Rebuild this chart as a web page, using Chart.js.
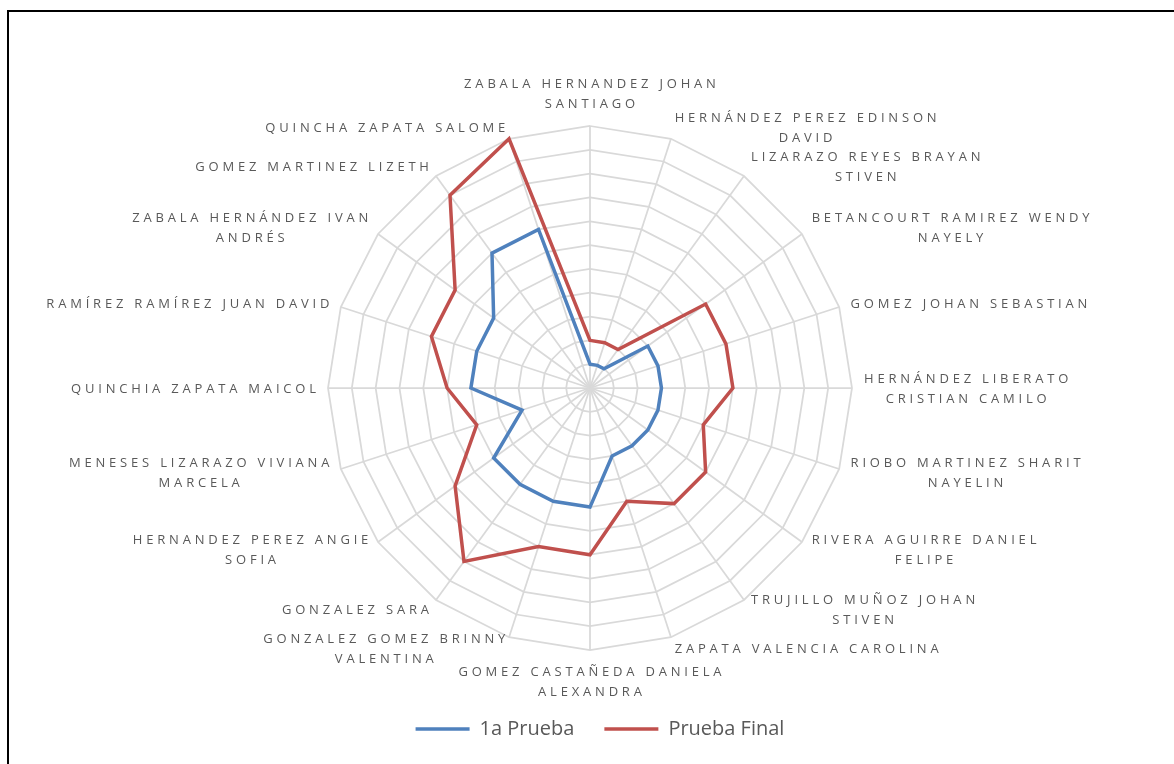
<!DOCTYPE html>
<html><head><meta charset="utf-8">
<script src="https://cdn.jsdelivr.net/npm/chart.js@4.4.1/dist/chart.umd.min.js"></script>
<style>
html,body{margin:0;padding:0;background:#fff;overflow:hidden;}
#wrap{position:relative;width:1174px;height:764px;overflow:hidden;}
#frame{position:absolute;left:7px;top:10px;width:1220px;height:820px;border:2px solid #000;box-sizing:border-box;pointer-events:none;}
canvas{position:absolute;left:0;top:0;}
</style></head><body>
<div id="wrap"><canvas id="c" width="1174" height="764"></canvas><div id="frame"></div></div>
<script>
const categories = [
  ['ZABALA HERNANDEZ JOHAN', 'SANTIAGO'],
  ['HERNÁNDEZ PEREZ EDINSON', 'DAVID'],
  ['LIZARAZO REYES BRAYAN', 'STIVEN'],
  ['BETANCOURT RAMIREZ WENDY', 'NAYELY'],
  ['GOMEZ JOHAN SEBASTIAN'],
  ['HERNÁNDEZ LIBERATO', 'CRISTIAN CAMILO'],
  ['RIOBO MARTINEZ SHARIT', 'NAYELIN'],
  ['RIVERA AGUIRRE DANIEL', 'FELIPE'],
  ['TRUJILLO MUÑOZ JOHAN', 'STIVEN'],
  ['ZAPATA VALENCIA CAROLINA'],
  ['GOMEZ CASTAÑEDA DANIELA', 'ALEXANDRA'],
  ['GONZALEZ GOMEZ BRINNY', 'VALENTINA'],
  ['GONZALEZ SARA'],
  ['HERNANDEZ PEREZ ANGIE', 'SOFIA'],
  ['MENESES LIZARAZO VIVIANA', 'MARCELA'],
  ['QUINCHIA ZAPATA MAICOL'],
  ['RAMÍREZ RAMÍREZ JUAN DAVID'],
  ['ZABALA HERNÁNDEZ IVAN', 'ANDRÉS'],
  ['GOMEZ MARTINEZ LIZETH'],
  ['QUINCHA ZAPATA SALOME']
];
const primeraPrueba = [1, 1, 1, 3, 3, 3, 3, 3, 3, 3, 5, 5, 5, 5, 3, 5, 5, 5, 7, 7];
const pruebaFinal   = [2, 2, 2, 6, 6, 6, 5, 6, 6, 5, 7, 7, 9, 7, 5, 6, 7, 7, 10, 11];
const seriesNames = ['1a Prueba', 'Prueba Final'];
const axisMax = 11;

const LABEL_GAP = 12;
const LINE_H = 20;
const SPACING = 3.8;
const labelPlugin = {
  id: 'excelPointLabels',
  beforeDatasetsDraw(chart) {
    const scale = chart.scales.r;
    const ctx = chart.ctx;
    const labels = chart.data.labels;
    const n = labels.length;
    ctx.save();
    ctx.font = '13px "Open Sans"';
    ctx.letterSpacing = SPACING + 'px';
    ctx.fillStyle = '#595959';
    ctx.textBaseline = 'middle';
    ctx.textAlign = 'center';
    for (let i = 0; i < n; i++) {
      const lines = labels[i];
      const p = scale.getPointPosition(i, scale.drawingArea + LABEL_GAP);
      const w = Math.max(...lines.map(l => ctx.measureText(l).width - SPACING));
      const h = lines.length * LINE_H;
      const deg = Math.round(i * 360 / n);
      let cx, top;
      if (deg === 0) { cx = p.x; top = p.y - h; }
      else if (deg === 180) { cx = p.x; top = p.y; }
      else if (deg < 180) { cx = p.x + w / 2; top = p.y - h / 2 + 1; }
      else { cx = p.x - w / 2; top = p.y - h / 2 + 1; }
      lines.forEach((l, k) => ctx.fillText(l, cx + SPACING / 2, top + LINE_H * (k + 0.5)));
    }
    ctx.restore();
  }
};

new Chart(document.getElementById('c'), {
  type: 'radar',
  data: {
    labels: categories,
    datasets: [
      { label: seriesNames[0], data: primeraPrueba, borderColor: '#4F81BD', backgroundColor: '#4F81BD',
        borderWidth: 3.5, fill: false, pointRadius: 0, pointHoverRadius: 0, tension: 0 },
      { label: seriesNames[1], data: pruebaFinal, borderColor: '#C0504D', backgroundColor: '#C0504D',
        borderWidth: 3.5, fill: false, pointRadius: 0, pointHoverRadius: 0, tension: 0 }
    ]
  },
  options: {
    responsive: false,
    animation: false,
    layout: { padding: { left: 26, right: 0, top: 0, bottom: 15 } },
    plugins: {
      legend: {
        position: 'bottom',
        labels: {
          usePointStyle: true, pointStyle: 'line', pointStyleWidth: 54,
          font: { family: '"Open Sans"', size: 20 }, color: '#595959', padding: 30
        }
      },
      tooltip: { enabled: false }
    },
    scales: {
      r: {
        min: 0, max: axisMax,
        ticks: { display: false, stepSize: 1 },
        grid: { color: '#d9d9d9', lineWidth: 1.75 },
        angleLines: { color: '#d9d9d9', lineWidth: 1.75 },
        pointLabels: { display: false },
        afterFit(scale) { scale.xCenter = 590; scale.yCenter = 388; scale.drawingArea = 262; }
      }
    }
  },
  plugins: [labelPlugin]
});
</script>
</body></html>
